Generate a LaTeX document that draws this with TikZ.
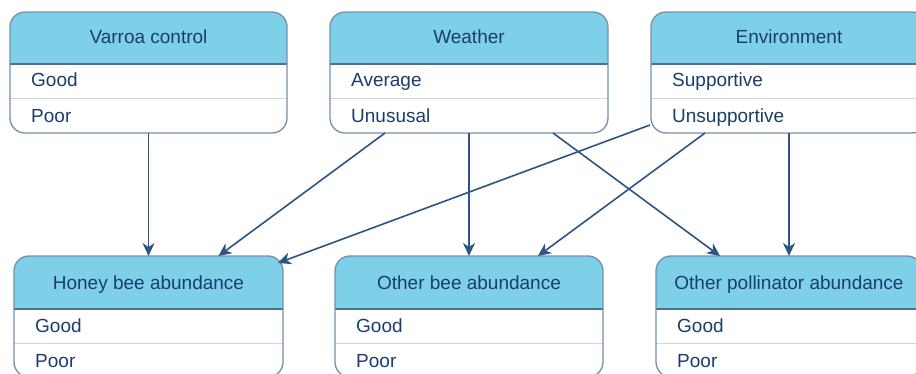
\documentclass[tikz,border=0pt]{standalone}
\usepackage{fontspec}
\setmainfont{Liberation Sans}
\usetikzlibrary{arrows.meta,calc}
\definecolor{headcol}{HTML}{7DD0E8}
\definecolor{bordcol}{HTML}{7590AC}
\definecolor{hdlinecol}{HTML}{4F6E8E}
\definecolor{txtcol}{HTML}{1B3D6D}
\definecolor{arrcol}{HTML}{2D5583}
\definecolor{divcol}{HTML}{CDD6DF}
\tikzset{
  outerbox/.style={shape=rectangle, draw=none, inner sep=0pt, outer sep=0pt},
  titletxt/.style={text=txtcol, inner sep=0pt, font=\fontsize{19}{22}\selectfont},
  rowtxt/.style={text=txtcol, inner sep=0pt, font=\fontsize{19}{22}\selectfont},
  arr/.style={draw=arrcol, line width=1.6pt, -{Stealth[length=13pt,width=12pt,inset=4pt]}},
}
% #1 name, #2 x1, #3 y1, #4 x2, #5 header height, #6 row height, #7 title, #8 row1, #9 row2
\newcommand\umlbox[9]{%
  \node[outerbox, minimum width={#4-#2}, minimum height={#5+2*#6}, anchor=north west] (#1) at (#2,#3) {};
  \fill[white, rounded corners=15pt] (#1.north west) rectangle (#1.south east);
  \begin{scope}
    \clip[rounded corners=15pt] (#1.north west) rectangle (#1.south east);
    \fill[headcol] (#1.north west) rectangle ($(#1.north east)+(0,#5)$);
  \end{scope}
  \draw[divcol, line width=0.9pt] ($(#1.north west)+(0,#5+#6)$) -- ($(#1.north east)+(0,#5+#6)$);
  \draw[hdlinecol, line width=1.1pt] ($(#1.north west)+(0,#5)$) -- ($(#1.north east)+(0,#5)$);
  \draw[bordcol, line width=1.3pt, rounded corners=15pt] (#1.north west) rectangle (#1.south east);
  \node[titletxt, anchor=base] (#1-t) at ($(#1.north)+(0,#5-20)$) {#7};
  \node[rowtxt, anchor=base west] (#1-a) at ($(#1.north west)+(21,#5+23)$) {#8};
  \node[rowtxt, anchor=base west] (#1-b) at ($(#1.north west)+(21,#5+#6+24)$) {#9};
}
\begin{document}
\begin{tikzpicture}[x=1pt,y=-1pt]
\useasboundingbox (0,0) rectangle (916,374);
\fill[white] (0,0) rectangle (916,374);
\umlbox{var}{10}{12}{287}{52}{34.5}{Varroa control}{Good}{Poor}
\umlbox{wea}{330}{12}{608}{52}{34.5}{Weather}{Average}{Unususal}
\umlbox{env}{651}{12}{927}{52}{34.5}{Environment}{Supportive}{Unsupportive}
\umlbox{hb}{14}{256}{283}{53}{34}{Honey bee abundance}{Good}{Poor}
\umlbox{ob}{335}{256}{603}{53}{34}{Other bee abundance}{Good}{Poor}
\umlbox{op}{656}{256}{922}{53}{34}{Other pollinator abundance}{Good}{Poor}
\draw[arr] (var.south) -- (hb.north);
\draw[arr] ([shift={(-84,0)}]wea.south) -- ([shift={(70,0)}]hb.north);
\draw[arr] ([shift={(-1,-8)}]env.south west) -- ([shift={(-5,7)}]hb.north east);
\draw[arr] (wea.south) -- (ob.north);
\draw[arr] ([shift={(84,0)}]wea.south) -- ([shift={(-69,0)}]op.north);
\draw[arr] ([shift={(-84,0)}]env.south) -- ([shift={(69,0)}]ob.north);
\draw[arr] (env.south) -- (op.north);
\end{tikzpicture}
\end{document}
